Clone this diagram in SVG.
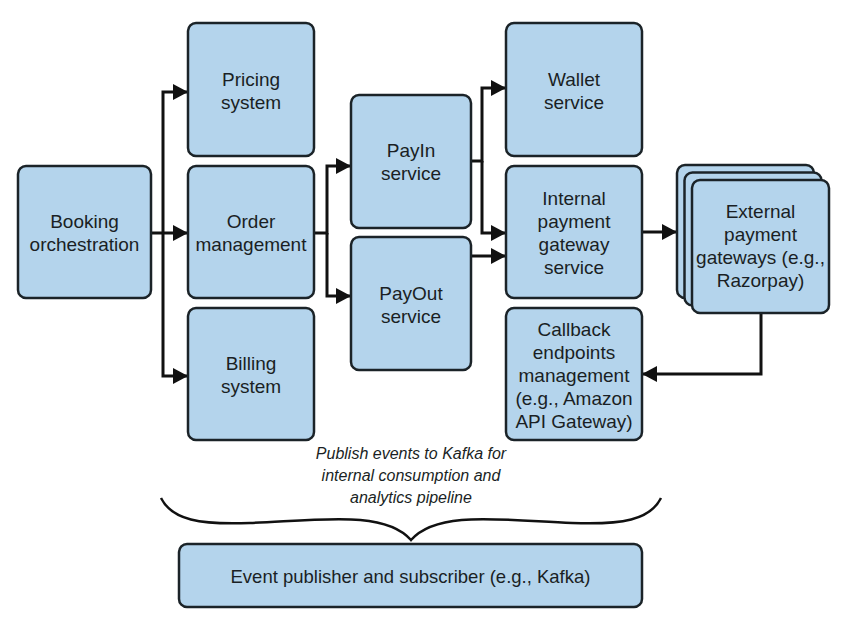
<svg xmlns="http://www.w3.org/2000/svg" width="848" height="629" viewBox="0 0 848 629">
  <defs>
    <style>
      .box { fill: #b4d4ec; stroke: #1b2328; stroke-width: 2.5; }
      .lbl { font-family: "Liberation Sans", Arial, sans-serif; font-size: 19px; fill: #1a1f24; text-anchor: middle; }
      .note { font-family: "Liberation Sans", Arial, sans-serif; font-size: 16px; font-style: italic; fill: #1a1f24; text-anchor: middle; }
      .conn { fill: none; stroke: #111; stroke-width: 3; stroke-linejoin: miter; }
      .brace { fill: none; stroke: #111; stroke-width: 2.5; }
    </style>
    <marker id="arr" markerUnits="userSpaceOnUse" markerWidth="15" markerHeight="16" refX="15" refY="8" orient="auto">
      <path d="M0,0 L15,8 L0,16 Z" fill="#111"/>
    </marker>
  </defs>
  <rect width="848" height="629" fill="#ffffff"/>

  <g id="connectors">
    <path class="conn" d="M151,233 H188" marker-end="url(#arr)"/>
    <path class="conn" d="M163,233 V92 H188" marker-end="url(#arr)"/>
    <path class="conn" d="M163,233 V376 H188" marker-end="url(#arr)"/>
    <path class="conn" d="M314,233 H327 V166 H351" marker-end="url(#arr)"/>
    <path class="conn" d="M327,233 V296 H351" marker-end="url(#arr)"/>
    <path class="conn" d="M471,161 H482 V88 H506" marker-end="url(#arr)"/>
    <path class="conn" d="M482,161 V233 H506" marker-end="url(#arr)"/>
    <path class="conn" d="M471,256 H506" marker-end="url(#arr)"/>
    <path class="conn" d="M642,232 H677" marker-end="url(#arr)"/>
    <path class="conn" d="M761,313 V374 H642" marker-end="url(#arr)"/>
  </g>

  <g id="booking">
    <rect class="box" x="18" y="166" width="133" height="132" rx="8"/>
    <text class="lbl" x="84.5" y="228">Booking</text>
    <text class="lbl" x="84.5" y="251">orchestration</text>
  </g>
  <g id="pricing">
    <rect class="box" x="188" y="23" width="126" height="133" rx="8"/>
    <text class="lbl" x="251" y="86">Pricing</text>
    <text class="lbl" x="251" y="109">system</text>
  </g>
  <g id="order">
    <rect class="box" x="188" y="166" width="126" height="132" rx="8"/>
    <text class="lbl" x="251" y="228">Order</text>
    <text class="lbl" x="251" y="251">management</text>
  </g>
  <g id="billing">
    <rect class="box" x="188" y="308" width="126" height="132" rx="8"/>
    <text class="lbl" x="251" y="370">Billing</text>
    <text class="lbl" x="251" y="393">system</text>
  </g>
  <g id="payin">
    <rect class="box" x="351" y="95" width="120" height="133" rx="8"/>
    <text class="lbl" x="411" y="157">PayIn</text>
    <text class="lbl" x="411" y="180">service</text>
  </g>
  <g id="payout">
    <rect class="box" x="351" y="237" width="120" height="133" rx="8"/>
    <text class="lbl" x="411" y="299.5">PayOut</text>
    <text class="lbl" x="411" y="322.5">service</text>
  </g>
  <g id="wallet">
    <rect class="box" x="506" y="23" width="136" height="133" rx="8"/>
    <text class="lbl" x="574" y="86">Wallet</text>
    <text class="lbl" x="574" y="109">service</text>
  </g>
  <g id="internal">
    <rect class="box" x="506" y="166" width="136" height="132" rx="8"/>
    <text class="lbl" x="574" y="205">Internal</text>
    <text class="lbl" x="574" y="228">payment</text>
    <text class="lbl" x="574" y="251">gateway</text>
    <text class="lbl" x="574" y="274">service</text>
  </g>
  <g id="callback">
    <rect class="box" x="506" y="308" width="136" height="132" rx="8"/>
    <text class="lbl" x="574" y="335.5">Callback</text>
    <text class="lbl" x="574" y="358.5">endpoints</text>
    <text class="lbl" x="574" y="381.5">management</text>
    <text class="lbl" x="574" y="404.5">(e.g., Amazon</text>
    <text class="lbl" x="574" y="427.5">API Gateway)</text>
  </g>
  <g id="external">
    <rect class="box" x="677" y="165" width="137" height="133" rx="8"/>
    <rect class="box" x="684.5" y="172.5" width="137" height="133" rx="8"/>
    <rect class="box" x="692" y="180" width="137" height="133" rx="8"/>
    <text class="lbl" x="760.5" y="218">External</text>
    <text class="lbl" x="760.5" y="241">payment</text>
    <text class="lbl" x="760.5" y="264">gateways (e.g.,</text>
    <text class="lbl" x="760.5" y="287">Razorpay)</text>
  </g>

  <g id="publish-note">
    <text class="note" x="411" y="459">Publish events to Kafka for</text>
    <text class="note" x="411" y="481">internal consumption and</text>
    <text class="note" x="411" y="503">analytics pipeline</text>
    <path class="brace" d="M161,498 C172,520 200,525 250,523 C320,520 385,510 411,540 C437,510 502,520 572,523 C622,525 650,520 661,498"/>
  </g>

  <g id="event">
    <rect class="box" x="179" y="544" width="463" height="63" rx="8"/>
    <text class="lbl" x="410.5" y="583" style="font-size:18.5px">Event publisher and subscriber (e.g., Kafka)</text>
  </g>
</svg>
